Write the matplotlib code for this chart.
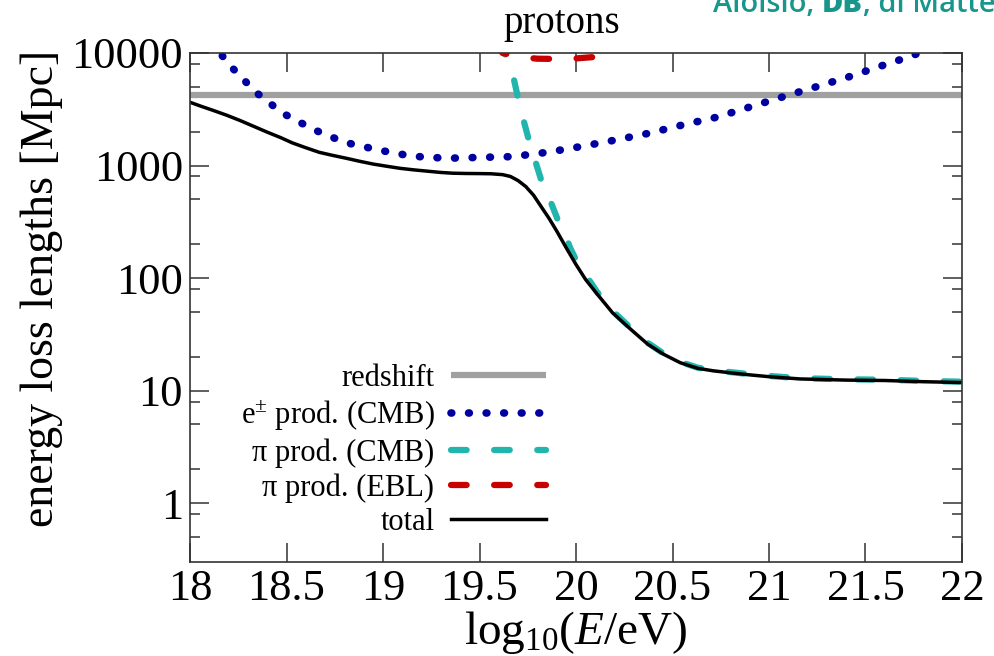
import numpy as np
import matplotlib
matplotlib.use('Agg')
import matplotlib.pyplot as plt
from matplotlib.ticker import FixedLocator, NullFormatter, NullLocator

plt.rcParams['font.family'] = ['Liberation Serif', 'DejaVu Serif']
plt.rcParams['mathtext.fontset'] = 'custom'
plt.rcParams['mathtext.rm'] = 'Liberation Serif'
plt.rcParams['mathtext.it'] = 'Liberation Serif:italic'

# log10(E/eV) grids and energy loss lengths in Mpc for each process
E_redshift = [18.0, 22.0]
L_redshift = [4250, 4250]

E_pair = [18.10, 18.155, 18.22, 18.34, 18.48, 18.64, 18.80, 18.98, 19.15, 19.33,
          19.49, 19.67, 19.85, 20.03, 20.20, 20.38, 20.55, 20.73, 20.90, 21.07,
          21.24, 21.41, 21.58, 21.75, 21.82]
L_pair = [12000, 10000, 7350, 4500, 2920, 2090, 1610, 1370, 1210, 1160,
          1180, 1200, 1310, 1480, 1680, 1940, 2290, 2690, 3310, 4070,
          4980, 6110, 7660, 9550, 11000]

E_pion_cmb = [19.60, 19.63, 19.67, 19.71, 19.76, 19.82, 19.86, 19.907, 19.93, 19.97,
              20.02, 20.07, 20.11, 20.19, 20.28, 20.37, 20.45, 20.54, 20.63, 20.71,
              20.80, 20.90, 21.00, 21.16, 21.40, 21.60, 21.80, 22.00]
L_pion_cmb = [13000, 10000, 6760, 3310, 1580, 741, 520, 325, 282, 185,
              124, 95, 75, 51, 36.5, 26.7, 21.6, 18.0, 16.0, 15.2,
              14.6, 14.0, 13.5, 12.9, 12.6, 12.5, 12.2, 12.0]

E_pion_ebl = [19.58, 19.62, 19.71, 19.80, 19.90, 20.00, 20.09, 20.17, 20.22]
L_pion_ebl = [12000, 10000, 9200, 8900, 8850, 8950, 9200, 10000, 12000]

E_total = [18.00, 18.06, 18.12, 18.19, 18.26, 18.33, 18.40, 18.47, 18.53, 18.60,
           18.67, 18.74, 18.81, 18.88, 18.95, 19.02, 19.09, 19.16, 19.23, 19.30,
           19.36, 19.43, 19.50, 19.56, 19.62, 19.66, 19.70, 19.74, 19.78, 19.82,
           19.86, 19.90, 19.95, 20.00, 20.05, 20.11, 20.19, 20.28, 20.37, 20.45,
           20.54, 20.63, 20.71, 20.80, 20.90, 21.00, 21.16, 21.40, 21.60, 21.80,
           22.00]
L_total = [3650, 3350, 3090, 2800, 2510, 2230, 1980, 1770, 1590, 1440,
           1310, 1230, 1160, 1090, 1030, 985, 944, 915, 891, 868,
           855, 850, 848, 845, 830, 800, 735, 650, 545, 430,
           340, 262, 185, 132, 97, 72, 49, 35.5, 26, 21.2,
           17.7, 15.8, 15.0, 14.4, 13.8, 13.3, 12.7, 12.4, 12.3, 12.0,
           11.8]

x_ticks = [18, 18.5, 19, 19.5, 20, 20.5, 21, 21.5, 22]
x_ticklabels = ['18', '18.5', '19', '19.5', '20', '20.5', '21', '21.5', '22']
y_ticks = [1, 10, 100, 1000, 10000]
y_ticklabels = ['1', '10', '100', '1000', '10000']
y_minor = [0.5, 0.8, 2, 5, 8, 20, 50, 80, 200, 500, 800, 2000, 5000, 8000]

fig = plt.figure(figsize=(9.95, 6.56), dpi=100)
ax = fig.add_axes([190/995, 1 - 562/656, 772/995, 509/656])

l_red, = ax.plot(E_redshift, L_redshift, color='#a0a0a0', lw=4.5,
                 solid_capstyle='butt', label='redshift')
l_pair, = ax.plot(E_pair, L_pair, color='#0000a0', lw=5.5,
                  linestyle=(0, (0.1, 2.2)), dash_capstyle='round',
                  label=r'e$^{\pm}$ prod. (CMB)')
l_pcmb, = ax.plot(E_pion_cmb, L_pion_cmb, color='#22b5ad', lw=4.5,
                  linestyle=(0, (2.5, 4.4)), dash_capstyle='round',
                  label='π prod. (CMB)')
l_pebl, = ax.plot(E_pion_ebl, L_pion_ebl, color='#c80000', lw=4.5,
                  linestyle=(0, (2.5, 4.4)), dash_capstyle='round',
                  label='π prod. (EBL)')
l_tot, = ax.plot(E_total, L_total, color='black', lw=2.5, label='total')

ax.set_yscale('log')
ax.set_xlim(18, 22)
ax.set_ylim(0.3, 10000)

ax.xaxis.set_major_locator(FixedLocator(x_ticks))
ax.set_xticklabels(x_ticklabels)
ax.xaxis.set_minor_locator(NullLocator())
ax.yaxis.set_major_locator(FixedLocator(y_ticks))
ax.set_yticklabels(y_ticklabels)
ax.yaxis.set_minor_locator(FixedLocator(y_minor))
ax.yaxis.set_minor_formatter(NullFormatter())

ax.tick_params(which='both', direction='in', top=True, right=True,
               width=1.1, color='#333333')
ax.tick_params(which='major', length=14, labelsize=32, pad=5)
ax.tick_params(which='minor', length=7)
for s in ax.spines.values():
    s.set_linewidth(1.2)
    s.set_color('#333333')

ax.set_xlabel(r'log$_{10}$($E$/eV)', fontsize=34, labelpad=0)
ax.set_ylabel('energy loss lengths [Mpc]', fontsize=33)
ax.yaxis.set_label_coords(-0.165, 0.538)

ax.legend(handles=[l_red, l_pair, l_pcmb, l_pebl, l_tot], markerfirst=False,
          frameon=False, fontsize=22, handlelength=3.1, handletextpad=0.55,
          labelspacing=0.18, borderpad=0, borderaxespad=0,
          loc='upper right', bbox_transform=fig.transFigure,
          bbox_to_anchor=(546/995, 1 - 364/656))

fig.text(562/995, 1 - 33/656, 'protons', ha='center', va='baseline', fontsize=28)

# author credit in the top right corner, partly running off the canvas
fig.canvas.draw()
renderer = fig.canvas.get_renderer()
x = 713/995
for piece, weight in [('Aloisio, ', 'semibold'), ('DB', 'heavy'), (', di Matteo', 'semibold')]:
    t = fig.text(x, 1 - 12/656, piece, ha='left', va='baseline', fontsize=21,
                 family=['Open Sans', 'DejaVu Sans'], fontweight=weight, color='#17968b')
    bb = t.get_window_extent(renderer)
    x = bb.x1 / fig.bbox.width

fig.savefig('out.png', dpi=100)
